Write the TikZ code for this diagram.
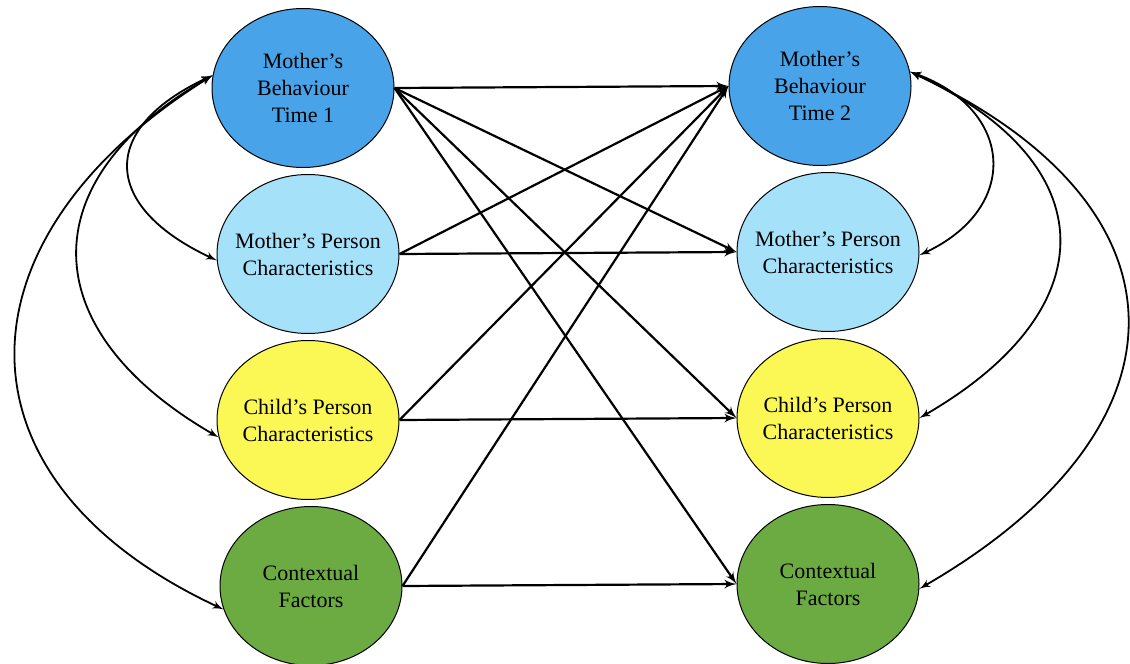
\documentclass[tikz,border=0pt]{standalone}
\usepackage{fontspec}
\setmainfont{Liberation Serif}
\usetikzlibrary{arrows, positioning, shapes}
\definecolor{behblue}{RGB}{72,163,232}
\definecolor{personblue}{RGB}{166,225,250}
\definecolor{childyellow}{RGB}{251,247,84}
\definecolor{contextgreen}{RGB}{108,171,66}
\tikzset{
    ovalnode/.style={ellipse, draw=black, line width=0.5pt, inner xsep=-6pt, inner ysep=0pt, minimum width=91pt, minimum height=79.5pt, align=center, font=\fontsize{11}{13.5}\selectfont},
    bluenode/.style={ovalnode, fill=behblue},
    lightbluenode/.style={ovalnode, fill=personblue},
    yellownode/.style={ovalnode, fill=childyellow},
    greennode/.style={ovalnode, fill=contextgreen},
    myarrow/.style={->, >=latex', line width=1.1pt},
    mycurve/.style={<->, >=latex', line width=0.9pt}
}
\begin{document}
\begin{tikzpicture}[x=0.5pt, y=-0.5pt, node distance=3pt and 167pt]
    \useasboundingbox (0,0) rectangle (1130,664);

        % ------------------
        % nodes
        % ------------------

        \node[bluenode] (behaviour1) at (303,88) {Mother’s\\Behaviour\\Time 1};
        \node[lightbluenode, below=of behaviour1, xshift=2.5pt] (motherpc1) {Mother’s Person\\Characteristics};
        \node[yellownode, below=of motherpc1] (childpc1) {Child’s Person\\Characteristics};
        \node[greennode, below=of childpc1, xshift=1.5pt] (context1) {Contextual\\Factors};

        \node[bluenode, right=of behaviour1, yshift=1pt] (behaviour2) {Mother’s\\Behaviour\\Time 2};
        \node[lightbluenode, below=of behaviour2, xshift=4pt] (motherpc2) {Mother’s Person\\Characteristics};
        \node[yellownode, below=of motherpc2] (childpc2) {Child’s Person\\Characteristics};
        \node[greennode, below=of childpc2] (context2) {Contextual\\Factors};

        % ------------------
        % arrows
        % ------------------

        \draw[myarrow] (behaviour1.east) to (behaviour2.west);
        \draw[myarrow] (behaviour1.east) to (motherpc2.west);
        \draw[myarrow] (behaviour1.east) to (childpc2.west);
        \draw[myarrow] (behaviour1.east) to (context2.west);

        \draw[myarrow] (motherpc1.east) to (behaviour2.west);
        \draw[myarrow] (motherpc1.east) to (motherpc2.west);

        \draw[myarrow] (childpc1.east) to (behaviour2.west);
        \draw[myarrow] (childpc1.east) to (childpc2.west);

        \draw[myarrow] (context1.east) to (behaviour2.west);
        \draw[myarrow] (context1.east) to (context2.west);

        % ------------------
        % correlations
        % ------------------

        \draw[mycurve] (behaviour1.172) to[out=205, in=155, looseness=1.75] (motherpc1.184);
        \draw[mycurve] (behaviour1.172) to[out=210, in=150, looseness=1.5] (childpc1.191);
        \draw[mycurve] (behaviour1.172) to[out=212, in=155, looseness=1.47] (context1.195);

        \draw[mycurve] (behaviour2.9) to[out=-20, in=25, looseness=1.55] (motherpc2.358);
        \draw[mycurve] (behaviour2.9) to[out=-25, in=30, looseness=1.6] (childpc2.0);
        \draw[mycurve] (behaviour2.9) to[out=-25, in=30, looseness=1.58] (context2.357);

    \end{tikzpicture}
\end{document}
